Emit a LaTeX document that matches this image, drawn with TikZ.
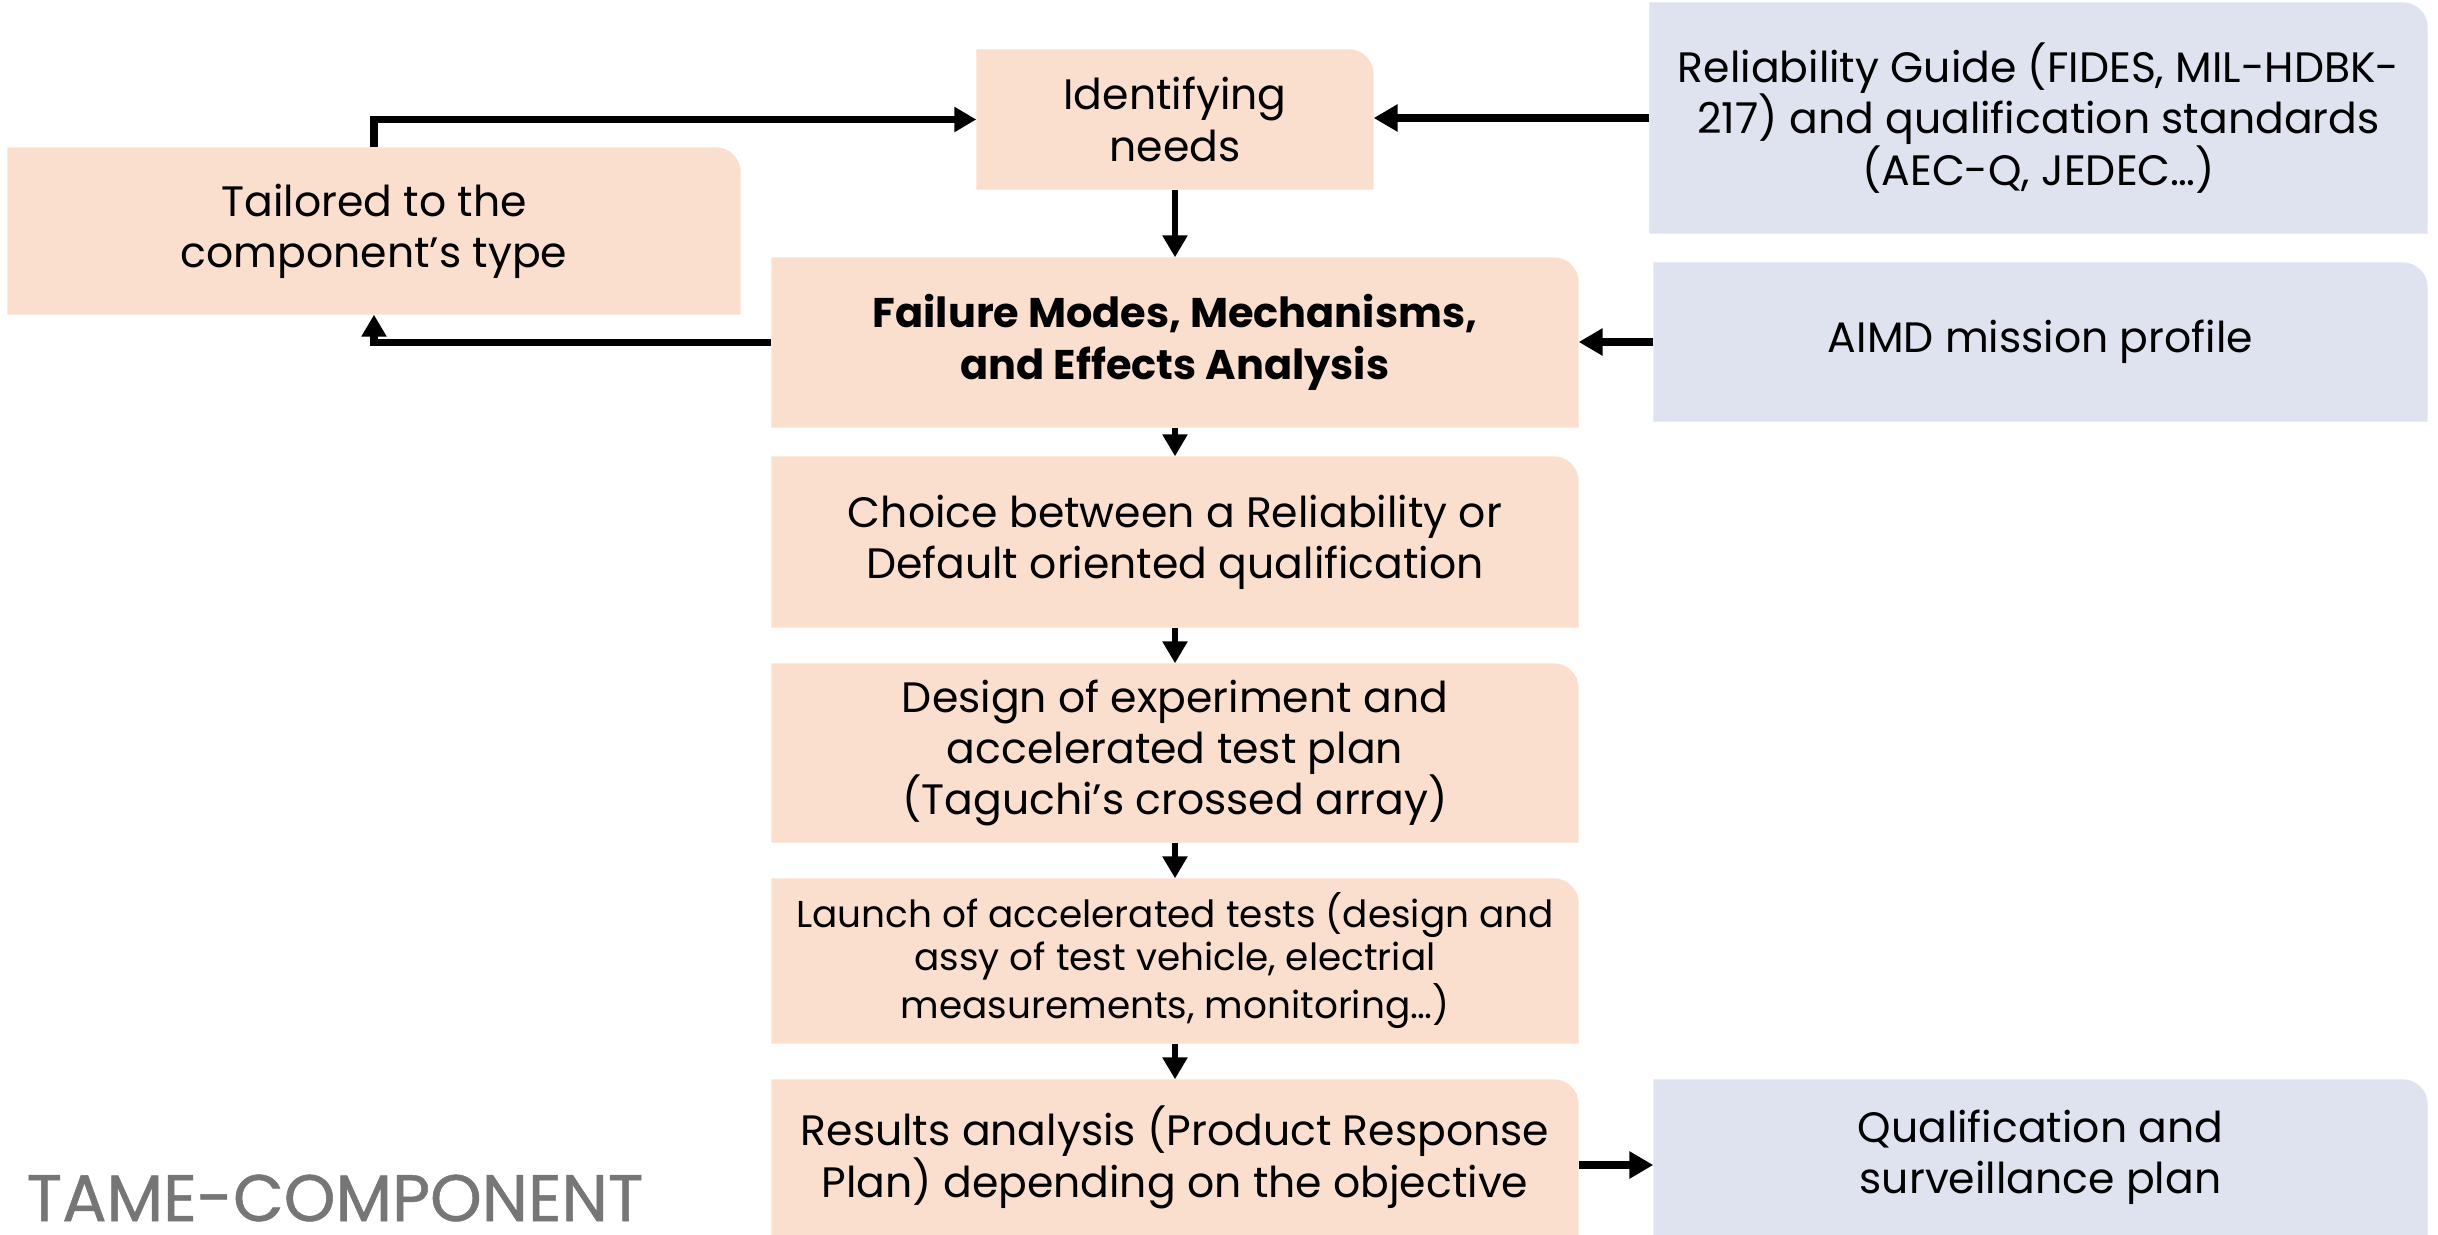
\documentclass[tikz,border=0pt]{standalone}
\usepackage{fontspec}
\setmainfont{Poppins}
\newfontfamily\tamefont{Poppins}[FakeBold=0.8]
\usetikzlibrary{arrows.meta,calc}
\pgfdeclarelayer{background}
\pgfsetlayers{background,main}
\definecolor{peach}{RGB}{250,222,206}
\definecolor{bluegray}{RGB}{223,226,239}
\definecolor{tamegray}{RGB}{118,118,118}
\tikzset{
  boxnode/.style={rectangle, inner sep=0pt, align=center, font=\fontsize{12.1}{14.6}\selectfont},
  arr/.style={line width=2pt, -{Triangle[length=0.22cm,width=0.24cm]}},
  arrthick/.style={line width=2.5pt, -{Triangle[length=0.24cm,width=0.26cm]}},
  arrdown/.style={line width=1.7pt, -{Triangle[length=0.22cm,width=0.24cm]}},
}
\newcommand{\boxbg}[2]{%
  \fill[#2] (#1.south west) -- (#1.north west) -- ($(#1.north east)+(-0.25,0)$)
    arc[start angle=90,end angle=0,radius=0.25] -- (#1.south east) -- cycle;}
\begin{document}
\begin{tikzpicture}
\useasboundingbox (0,0) rectangle (24.38,-12.35);
% nodes (1px = 0.01cm)
\node[boxnode, minimum width=7.32cm, minimum height=1.66cm] (tail) at (3.74,-2.31) {Tailored to the\\component’s type};
\node[boxnode, minimum width=3.96cm, minimum height=1.39cm] (need) at (11.75,-1.195) {Identifying\\needs};
\node[boxnode, minimum width=7.77cm, minimum height=2.30cm] (guide) at (20.385,-1.18) {Reliability Guide (FIDES, MIL-HDBK-\\217) and qualification standards\\(AEC-Q, JEDEC…)};
\node[boxnode, minimum width=8.06cm, minimum height=1.69cm, font=\fontsize{11.8}{14.6}\selectfont\bfseries] (fmea) at (11.75,-3.425) {Failure Modes, Mechanisms,\\and Effects Analysis};
\node[boxnode, minimum width=7.73cm, minimum height=1.58cm] (aimd) at (20.405,-3.42) {AIMD mission profile};
\node[boxnode, minimum width=8.06cm, minimum height=1.70cm] (choice) at (11.75,-5.42) {Choice between a Reliability or\\Default oriented qualification};
\node[boxnode, minimum width=8.06cm, minimum height=1.78cm] (design) at (11.75,-7.53) {Design of experiment and\\accelerated test plan\\(Taguchi’s crossed array)};
\node[boxnode, minimum width=8.06cm, minimum height=1.64cm, font=\fontsize{10.65}{12.2}\selectfont] (launch) at (11.75,-9.61) {Launch of accelerated tests (design and\\assy of test vehicle, electrial\\measurements, monitoring…)};
\node[boxnode, minimum width=8.06cm, minimum height=1.55cm] (result) at (11.75,-11.575) {Results analysis (Product Response\\Plan) depending on the objective};
\node[boxnode, minimum width=7.73cm, minimum height=1.55cm] (qual) at (20.405,-11.575) {Qualification and\\surveillance plan};
\node[anchor=base west, inner sep=0pt, text=tamegray, font=\tamefont\fontsize{18.7}{22}\selectfont] (tame) at (0.26,-12.21) {TAME-COMPONENT};
% backgrounds
\begin{pgfonlayer}{background}
\boxbg{tail}{peach}
\boxbg{need}{peach}
\boxbg{fmea}{peach}
\boxbg{choice}{peach}
\boxbg{design}{peach}
\boxbg{launch}{peach}
\boxbg{result}{peach}
\boxbg{guide}{bluegray}
\boxbg{aimd}{bluegray}
\boxbg{qual}{bluegray}
\end{pgfonlayer}
% connectors
\draw[arr] (tail.north) |- (need.west);
\draw[arr] (fmea.west) -| (tail.south);
\draw[arrthick] (guide.west) -- (need.east |- guide.west);
\draw[arrthick] (aimd.west) -- (fmea.east |- aimd.west);
\draw[arrthick] (result.east |- 0,-11.65) -- (qual.west |- 0,-11.65);
\draw[arrdown] (need.south) -- (fmea.north);
\draw[arrdown] (fmea.south) -- (choice.north);
\draw[arrdown] (choice.south) -- (design.north);
\draw[arrdown] (design.south) -- (launch.north);
\draw[arrdown] (launch.south) -- (result.north);
\end{tikzpicture}
\end{document}
